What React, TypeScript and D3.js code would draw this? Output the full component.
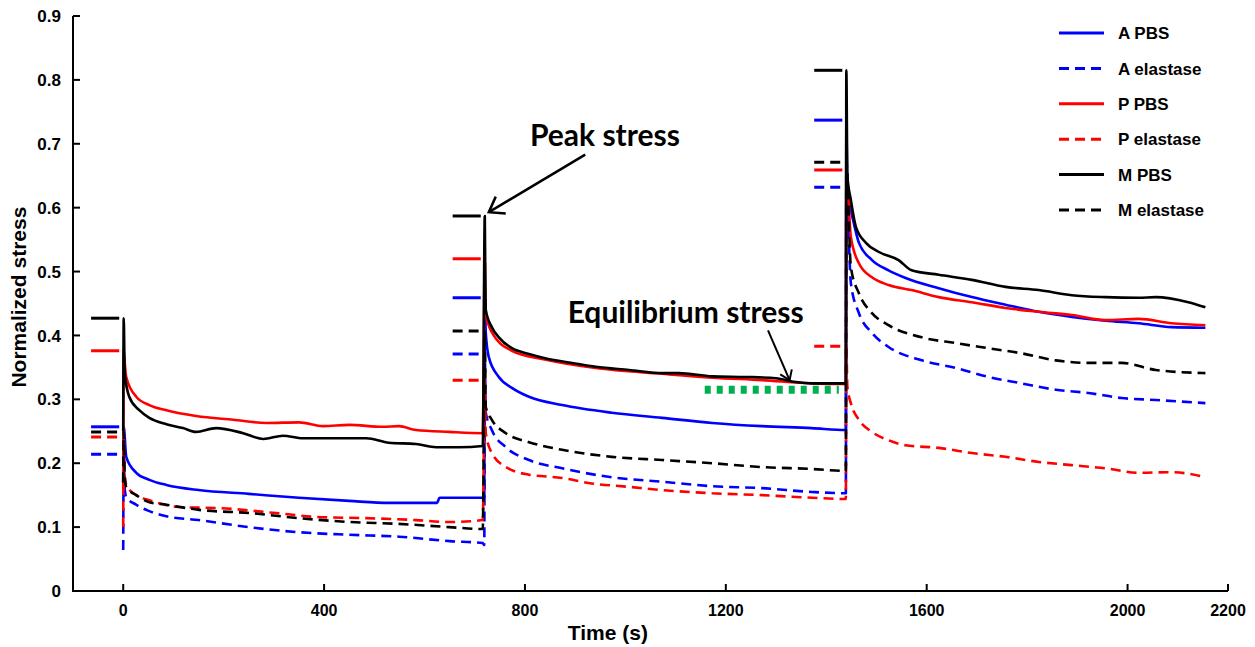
import React from 'react';
import * as d3 from 'd3';

const W = 1255;
const H = 647;

// [time (s), normalized stress]
const aPBS: [number, number][] = [
  [0, 0.17], [1, 0.257], [6, 0.21], [26, 0.185], [52, 0.174], [86, 0.166], [150, 0.158], [250, 0.152],
  [350, 0.146], [450, 0.141], [530, 0.138], [625, 0.138], [630, 0.146], [719, 0.146],
  [720, 0.459], [722, 0.404], [728, 0.366], [748, 0.335], [774, 0.318], [808, 0.304], [874, 0.291],
  [973, 0.279], [1073, 0.271], [1173, 0.263], [1272, 0.258], [1371, 0.255], [1439, 0.252],
  [1440, 0.737], [1442, 0.62], [1449, 0.596], [1465, 0.545], [1491, 0.518], [1524, 0.502], [1558, 0.49],
  [1624, 0.474], [1690, 0.46], [1757, 0.448], [1823, 0.437], [1889, 0.429], [1956, 0.423], [2022, 0.419],
  [2088, 0.413], [2155, 0.412],
];
const aElastase: [number, number][] = [
  [0, 0.064], [1, 0.214], [3, 0.16], [6, 0.147], [26, 0.135], [52, 0.125], [86, 0.117], [150, 0.111],
  [250, 0.1], [350, 0.092], [450, 0.088], [550, 0.085], [650, 0.078], [716, 0.075], [719, 0.072],
  [720, 0.371], [722, 0.279], [734, 0.252], [762, 0.225], [808, 0.205], [874, 0.192], [973, 0.178],
  [1073, 0.171], [1173, 0.164], [1272, 0.161], [1371, 0.155], [1439, 0.153],
  [1440, 0.632], [1449, 0.482], [1465, 0.435], [1491, 0.404], [1524, 0.382], [1590, 0.361], [1658, 0.349],
  [1723, 0.335], [1789, 0.325], [1857, 0.315], [1922, 0.31], [1988, 0.302], [2056, 0.299], [2155, 0.294],
];
const pPBS: [number, number][] = [
  [0, 0.16], [1, 0.376], [3, 0.357], [6, 0.335], [26, 0.304], [52, 0.291], [86, 0.283], [145, 0.274],
  [219, 0.268], [285, 0.263], [350, 0.264], [398, 0.258], [450, 0.26], [517, 0.257], [549, 0.258],
  [583, 0.252], [649, 0.249], [716, 0.247],
  [720, 0.52], [722, 0.435], [734, 0.405], [774, 0.376], [842, 0.362], [941, 0.349], [1073, 0.34],
  [1173, 0.334], [1272, 0.33], [1371, 0.325], [1439, 0.324],
  [1440, 0.659], [1449, 0.554], [1465, 0.513], [1491, 0.491], [1524, 0.479], [1570, 0.471], [1624, 0.46],
  [1690, 0.452], [1757, 0.443], [1823, 0.437], [1889, 0.432], [1956, 0.424], [2022, 0.426], [2088, 0.419],
  [2155, 0.416],
];
const pElastase: [number, number][] = [
  [0, 0.1], [1, 0.241], [3, 0.18], [6, 0.166], [26, 0.15], [52, 0.142], [119, 0.131], [185, 0.13],
  [304, 0.122], [384, 0.116], [484, 0.114], [583, 0.111], [649, 0.108], [716, 0.111],
  [720, 0.33], [722, 0.247], [734, 0.216], [762, 0.194], [808, 0.182], [874, 0.177], [927, 0.169],
  [1007, 0.163], [1073, 0.158], [1173, 0.153], [1272, 0.15], [1371, 0.146], [1439, 0.144],
  [1440, 0.383], [1442, 0.32], [1449, 0.294], [1465, 0.268], [1491, 0.249], [1524, 0.236], [1558, 0.228],
  [1624, 0.224], [1690, 0.216], [1757, 0.21], [1823, 0.202], [1889, 0.197], [1956, 0.192], [2022, 0.185],
  [2088, 0.186], [2155, 0.178],
];
const mPBS: [number, number][] = [
  [0, 0.25], [1, 0.427], [3, 0.341], [12, 0.304], [32, 0.283], [52, 0.271], [86, 0.261], [119, 0.255],
  [145, 0.249], [185, 0.255], [239, 0.247], [279, 0.238], [318, 0.243], [358, 0.239], [418, 0.239],
  [484, 0.239], [529, 0.232], [583, 0.23], [623, 0.225], [669, 0.225], [716, 0.227],
  [720, 0.587], [721, 0.49], [722, 0.44], [734, 0.413], [748, 0.397], [774, 0.38], [808, 0.371],
  [842, 0.364], [894, 0.357], [941, 0.351], [1007, 0.346], [1073, 0.341], [1106, 0.341], [1173, 0.336],
  [1240, 0.335], [1300, 0.333], [1339, 0.327], [1371, 0.325], [1439, 0.325],
  [1440, 0.815], [1442, 0.65], [1449, 0.612], [1459, 0.57], [1479, 0.545], [1504, 0.531], [1544, 0.518],
  [1570, 0.502], [1624, 0.495], [1690, 0.487], [1757, 0.476], [1823, 0.471], [1889, 0.463], [1956, 0.46],
  [2022, 0.459], [2056, 0.46], [2121, 0.452], [2155, 0.444],
];
const mElastase: [number, number][] = [
  [0, 0.17], [1, 0.249], [3, 0.18], [6, 0.163], [26, 0.15], [52, 0.139], [86, 0.135], [151, 0.127],
  [251, 0.122], [350, 0.114], [450, 0.108], [549, 0.105], [649, 0.1], [716, 0.097],
  [720, 0.407], [722, 0.288], [734, 0.268], [762, 0.247], [808, 0.233], [874, 0.221], [973, 0.21],
  [1073, 0.205], [1173, 0.2], [1272, 0.194], [1371, 0.191], [1439, 0.188],
  [1440, 0.671], [1449, 0.507], [1465, 0.466], [1491, 0.435], [1524, 0.416], [1590, 0.397], [1658, 0.388],
  [1723, 0.38], [1789, 0.372], [1857, 0.361], [1922, 0.357], [1988, 0.357], [2056, 0.346], [2155, 0.341],
];

// peak-stress markers drawn left of each step
const stepTimes = [0, 720, 1440];
const peakAPBS = [0.257, 0.459, 0.737];
const peakAElastase = [0.214, 0.371, 0.632];
const peakPPBS = [0.376, 0.52, 0.659];
const peakPElastase = [0.241, 0.33, 0.383];
const peakMPBS = [0.427, 0.587, 0.815];
const peakMElastase = [0.249, 0.407, 0.671];

const legendNames = ['A PBS', 'A elastase', 'P PBS', 'P elastase', 'M PBS', 'M elastase'];
const xTicks = [0, 400, 800, 1200, 1600, 2000, 2200];
const yTicks = [0, 0.1, 0.2, 0.3, 0.4, 0.5, 0.6, 0.7, 0.8, 0.9];

const series = [
  { name: 'A PBS', data: aPBS, peaks: peakAPBS, color: '#0000ff', dashed: false },
  { name: 'A elastase', data: aElastase, peaks: peakAElastase, color: '#0000ff', dashed: true },
  { name: 'P PBS', data: pPBS, peaks: peakPPBS, color: '#ff0000', dashed: false },
  { name: 'P elastase', data: pElastase, peaks: peakPElastase, color: '#ff0000', dashed: true },
  { name: 'M PBS', data: mPBS, peaks: peakMPBS, color: '#000000', dashed: false },
  { name: 'M elastase', data: mElastase, peaks: peakMElastase, color: '#000000', dashed: true },
];
// M PBS last so its spikes sit on top
const drawOrder = [0, 1, 2, 3, 5, 4];

const FONT = '"Liberation Sans", Arial, sans-serif';
const NOTE_FONT = 'Lato, "Open Sans", sans-serif';
const DASH = '10,6';

function arrowHead(x1: number, y1: number, x2: number, y2: number, len: number) {
  // open V at (x2, y2), pointing away from (x1, y1)
  const a = Math.atan2(y1 - y2, x1 - x2);
  const s = (35 * Math.PI) / 180;
  const p1 = [x2 + len * Math.cos(a + s), y2 + len * Math.sin(a + s)];
  const p2 = [x2 + len * Math.cos(a - s), y2 + len * Math.sin(a - s)];
  return `M${p1[0]},${p1[1]}L${x2},${y2}L${p2[0]},${p2[1]}`;
}

export default function App() {
  const x = d3.scaleLinear().domain([-100, 2200]).range([73, 1228]);
  const y = d3.scaleLinear().domain([0, 0.9]).range([591, 16]);
  const line = d3.line<[number, number]>().x(d => x(d[0])).y(d => y(d[1])).curve(d3.curveMonotoneX);

  const pk = { tx: 810, ty: 0.697, ax1: 920, ay1: 0.683, ax2: 728, ay2: 0.593 };
  const eq = { tx: 885, ty: 0.419, ax1: 1284, ay1: 0.408, ax2: 1327, ay2: 0.33, g1: 1158, g2: 1425, gv: 0.315 };

  return (
    <div style={{ position: 'absolute', left: 0, top: 0 }}>
      <svg width={W} height={H} style={{ display: 'block', background: '#fff' }}>
        {/* series */}
        {drawOrder.map(i => {
          const s = series[i];
          return (
            <path key={s.name} d={line(s.data) || ''} fill="none" stroke={s.color} strokeWidth={2.6}
              strokeDasharray={s.dashed ? DASH : undefined} strokeLinejoin="round" />
          );
        })}
        {/* peak markers */}
        {series.map(s => s.peaks.map((v, j) => (
          <line key={s.name + j} x1={x(stepTimes[j] - 64)} x2={x(stepTimes[j] - 8)} y1={y(v)} y2={y(v)}
            stroke={s.color} strokeWidth={3} strokeDasharray={s.dashed ? DASH : undefined} />
        )))}

        {/* axes */}
        <path d={`M${x(-100)},${y(0.9)}V${y(0)}H${x(2200)}`} fill="none" stroke="#000" strokeWidth={2} />
        {yTicks.map(t => (
          <g key={'y' + t}>
            <line x1={x(-100)} x2={x(-100) + 7} y1={y(t)} y2={y(t)} stroke="#000" strokeWidth={2} />
            <text x={x(-100) - 12} y={y(t)} dy="0.36em" textAnchor="end" fontFamily={FONT} fontWeight="bold" fontSize={17}>
              {t === 0 ? '0' : t.toFixed(1)}
            </text>
          </g>
        ))}
        {xTicks.map(t => (
          <g key={'x' + t}>
            <line x1={x(t)} x2={x(t)} y1={y(0)} y2={y(0) - 7} stroke="#000" strokeWidth={2} />
            <text x={x(t)} y={y(0) + 25} textAnchor="middle" fontFamily={FONT} fontWeight="bold" fontSize={16}>{t}</text>
          </g>
        ))}
        <text x={x(965)} y={640} textAnchor="middle" fontFamily={FONT} fontWeight="bold" fontSize={21}>Time (s)</text>
        <text transform={`translate(26,${y(0.46)}) rotate(-90)`} textAnchor="middle" fontFamily={FONT} fontWeight="bold" fontSize={21}>
          Normalized stress
        </text>

        {/* annotations */}
        <text x={x(pk.tx)} y={y(pk.ty)} fontFamily={NOTE_FONT} fontWeight="bold" fontSize={30}>Peak stress</text>
        <line x1={x(pk.ax1)} y1={y(pk.ay1)} x2={x(pk.ax2)} y2={y(pk.ay2)} stroke="#000" strokeWidth={2.5} />
        <path d={arrowHead(x(pk.ax1), y(pk.ay1), x(pk.ax2), y(pk.ay2), 17)} fill="none" stroke="#000" strokeWidth={2.5} />

        <line x1={x(eq.g1)} x2={x(eq.g2)} y1={y(eq.gv)} y2={y(eq.gv)} stroke="#00b050" strokeWidth={8} strokeDasharray="6,6" />
        <text x={x(eq.tx)} y={y(eq.ty)} fontFamily={NOTE_FONT} fontWeight="bold" fontSize={30}>Equilibrium stress</text>
        <line x1={x(eq.ax1)} y1={y(eq.ay1)} x2={x(eq.ax2)} y2={y(eq.ay2)} stroke="#000" strokeWidth={2} />
        <path d={arrowHead(x(eq.ax1), y(eq.ay1), x(eq.ax2), y(eq.ay2), 11)} fill="none" stroke="#000" strokeWidth={2} />

        {/* legend */}
        {legendNames.map((n, i) => {
          const s = series[i];
          const ly = 33 + i * 35.4;
          return (
            <g key={n}>
              <line x1={1059} x2={1104} y1={ly} y2={ly} stroke={s.color} strokeWidth={3}
                strokeDasharray={s.dashed ? DASH : undefined} />
              <text x={1118} y={ly} dy="0.36em" fontFamily={FONT} fontWeight="bold" fontSize={17}>{n}</text>
            </g>
          );
        })}
      </svg>
    </div>
  );
}
